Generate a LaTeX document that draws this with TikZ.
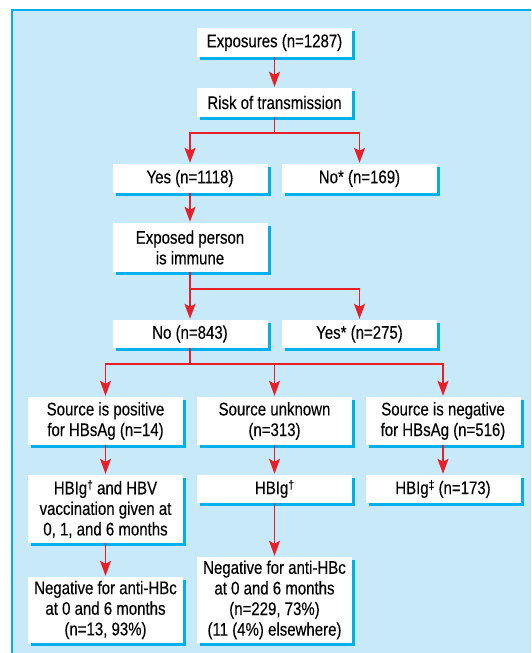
\documentclass[tikz,border=0pt]{standalone}
\usepackage{fontspec}
\setmainfont{Liberation Sans}[FakeStretch=0.82,FakeBold=0.25]
\usetikzlibrary{arrows.meta,shadows}
\definecolor{bgblue}{RGB}{200,234,248}
\definecolor{cyanb}{RGB}{0,176,236}
\definecolor{arrred}{RGB}{232,30,40}
\newcommand{\mydag}[1]{\raisebox{5pt}{\fontsize{12.5}{12.5}\selectfont #1}}
\tikzset{
  fbox/.style={fill=white, align=center, inner sep=0pt, minimum width=155pt,
    font=\fontsize{18.3}{20.6}\selectfont,
    drop shadow={shadow xshift=3pt, shadow yshift=-3pt, fill=cyanb, opacity=1}},
  link/.style={draw=arrred, line width=1.8pt},
  arr/.style={link, -{Stealth[length=15pt,width=11pt,inset=3pt]}, shorten >=1pt}
}
\begin{document}
\begin{tikzpicture}[x=1pt,y=-1pt]
\useasboundingbox (0,0) rectangle (531,653);
\fill[bgblue] (12,10) rectangle (531,653);
\draw[cyanb, line width=1.5pt] (12,653) -- (12,10) -- (531,10);

\node[fbox, minimum height=29pt] (exp) at (274.5,42.5) {Exposures (n=1287)};
\node[fbox, minimum height=29pt] (risk) at (274.5,102.5) {Risk of transmission};
\node[fbox, minimum height=29pt] (yes) at (190,178.5) {Yes (n=1118)};
\node[fbox, minimum height=29pt] (no1) at (359.5,178.5) {No* (n=169)};
\node[fbox, minimum height=49pt] (exposed) at (190,247.5) {Exposed person\\is immune};
\node[fbox, minimum height=28pt] (no843) at (190,334) {No (n=843)};
\node[fbox, minimum height=28pt] (yes275) at (359.5,334) {Yes* (n=275)};
\node[fbox, minimum height=48pt] (srcpos) at (105.5,421) {Source is positive\\for HBsAg (n=14)};
\node[fbox, minimum height=48pt] (srcunk) at (274.5,421) {Source unknown\\(n=313)};
\node[fbox, minimum height=48pt] (srcneg) at (443,421) {Source is negative\\for HBsAg (n=516)};
\node[fbox, minimum height=68pt] (hbv) at (105.5,509) {HBIg\mydag{†} and HBV\\vaccination given at\\0, 1, and 6 months};
\node[fbox, minimum height=28pt] (hbig) at (274.5,489) {HBIg\mydag{†}};
\node[fbox, minimum height=28pt] (hbig2) at (443,489) {HBIg\mydag{‡} (n=173)};
\node[fbox, minimum height=66pt] (negl) at (105.5,610) {Negative for anti-HBc\\at 0 and 6 months\\(n=13, 93\%)};
\node[fbox, minimum height=86pt] (negm) at (274.5,600) {Negative for anti-HBc\\at 0 and 6 months\\(n=229, 73\%)\\(11 (4\%) elsewhere)};

\coordinate (s1) at (274.5,133);
\coordinate (s2) at (190,289);
\coordinate (s3) at (190,364);

\draw[arr] (exp) -- (risk);
\draw[link] (risk.south) -- (s1);
\draw[arr] (s1) -| (yes.north);
\draw[arr] (s1) -| (no1.north);
\draw[arr] (yes) -- (exposed);
\draw[link] (exposed.south) -- (s2);
\draw[arr] (s2) -- (no843.north);
\draw[arr] (s2) -| (yes275.north);
\draw[link] (no843.south) -- (s3);
\draw[arr] (s3) -| (srcpos.north);
\draw[arr] (s3) -| (srcunk.north);
\draw[arr] (s3) -| (srcneg.north);
\draw[arr] (srcpos) -- (hbv);
\draw[arr] (srcunk) -- (hbig);
\draw[arr] (srcneg) -- (hbig2);
\draw[arr] (hbv) -- (negl);
\draw[arr] (hbig) -- (negm);
\end{tikzpicture}
\end{document}
